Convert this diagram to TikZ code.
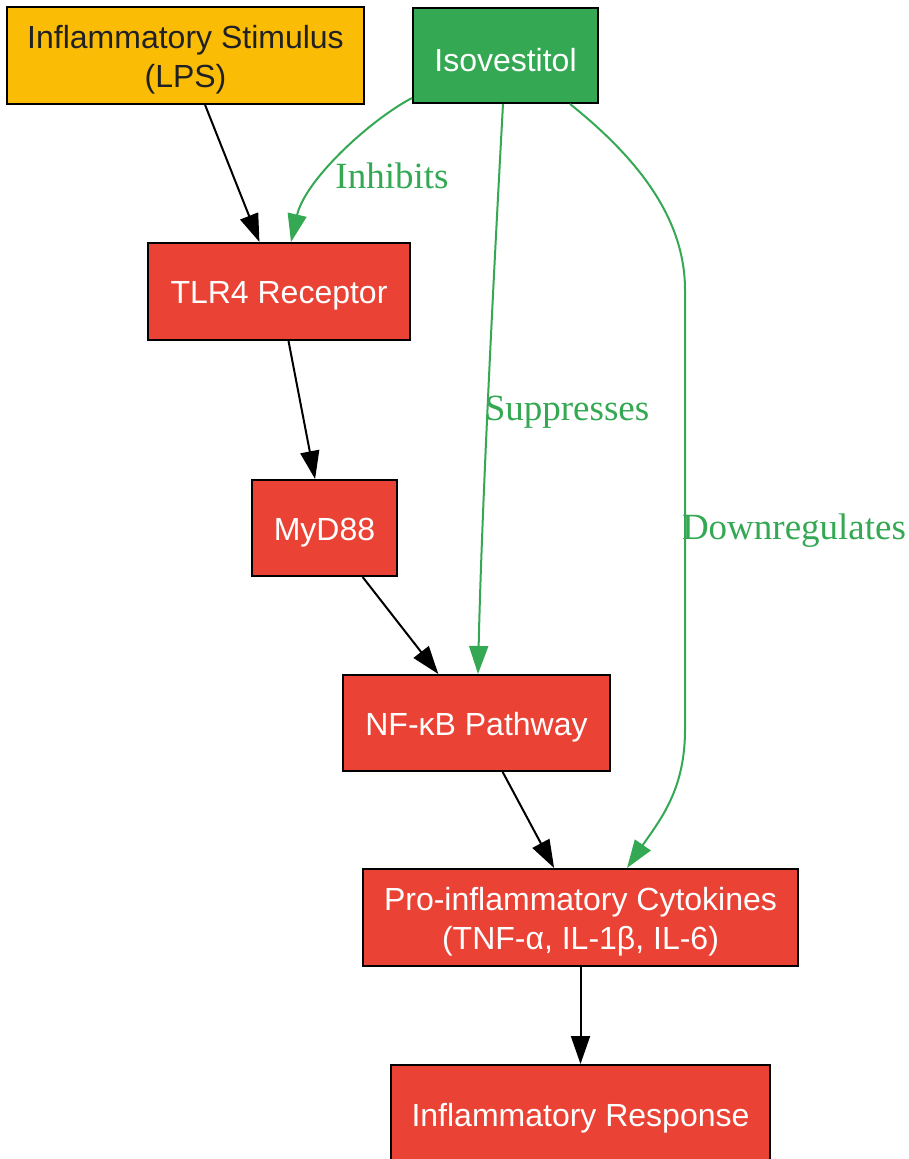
\documentclass[tikz,border=0pt]{standalone}
\usepackage{fontspec}
\setmainfont{Liberation Sans}
\newfontfamily\labelfont{Liberation Serif}
\usetikzlibrary{arrows.meta,calc}
\definecolor{gred}{HTML}{EA4335}
\definecolor{ggreen}{HTML}{34A853}
\definecolor{gyellow}{HTML}{FBBC05}
\definecolor{gdark}{HTML}{202124}
\tikzset{
  box/.style={draw=black, line width=2pt, rectangle, inner sep=0pt},
  redbox/.style={box, fill=gred},
  txt/.style={align=center, font=\fontsize{32}{39}\selectfont, text=white, inner sep=0pt, yshift=-4.5pt},
  arr/.style={line width=2pt, -{Triangle[length=28pt,width=19pt]}},
  garr/.style={arr, draw=ggreen, -{Triangle[length=28pt,width=19pt,fill=ggreen]}},
  elabel/.style={text=ggreen, font=\labelfont\fontsize{37}{40}\selectfont, inner sep=0pt}
}
\begin{document}
\begin{tikzpicture}[x=1pt,y=-1pt]
\useasboundingbox (0,0) rectangle (909,1159);
\node[box, fill=gyellow, minimum width=357pt, minimum height=97pt,
  label={[txt, text=gdark]center:Inflammatory Stimulus\\(LPS)}] (lps) at (185.5,55.5) {};
\node[box, fill=ggreen, minimum width=185pt, minimum height=95pt,
  label={[txt]center:Isovestitol}] (iso) at (505.5,55.5) {};
\node[redbox, minimum width=262pt, minimum height=97pt,
  label={[txt]center:TLR4 Receptor}] (tlr) at (279,291.5) {};
\node[redbox, minimum width=145pt, minimum height=96pt,
  label={[txt]center:MyD88}] (myd) at (324.5,528) {};
\node[redbox, minimum width=267pt, minimum height=96pt,
  label={[txt]center:NF-κB Pathway}] (nfkb) at (476.5,723) {};
\node[redbox, minimum width=435pt, minimum height=97pt,
  label={[txt]center:{Pro-inflammatory Cytokines\\(TNF-α, IL-1β, IL-6)}}] (cyto) at (580.5,917.5) {};
\node[redbox, minimum width=379pt, minimum height=97pt,
  label={[txt]center:Inflammatory Response}] (resp) at (580.5,1113.5) {};

\draw[arr] (lps) -- (tlr);
\draw[arr] (tlr) -- (myd);
\draw[arr] (myd) -- (nfkb);
\draw[arr] (nfkb) -- (cyto);
\draw[arr] (cyto) -- (resp);

\draw[garr] ($(iso.south west)+(0,-6)$) .. controls (370,120) and (305,180) .. ($(tlr.north)+(12,0)$);
\draw[garr] ($(iso.south)+(-2.5,0)$) .. controls (495,250) and (482,500) .. ($(nfkb.north)+(1.5,0)$);
\draw[garr] ($(iso.south)+(64.5,0)$) .. controls (640,160) and (685,220) .. (685,290) -- (685,730) .. controls (685,790) and (660,820) .. ($(cyto.north)+(46.5,0)$);

\node[elabel] (l1) at (392,176) {Inhibits};
\node[elabel] (l2) at (567,412) {Suppresses};
\node[elabel] (l3) at (794,531) {Downregulates};
\end{tikzpicture}
\end{document}
